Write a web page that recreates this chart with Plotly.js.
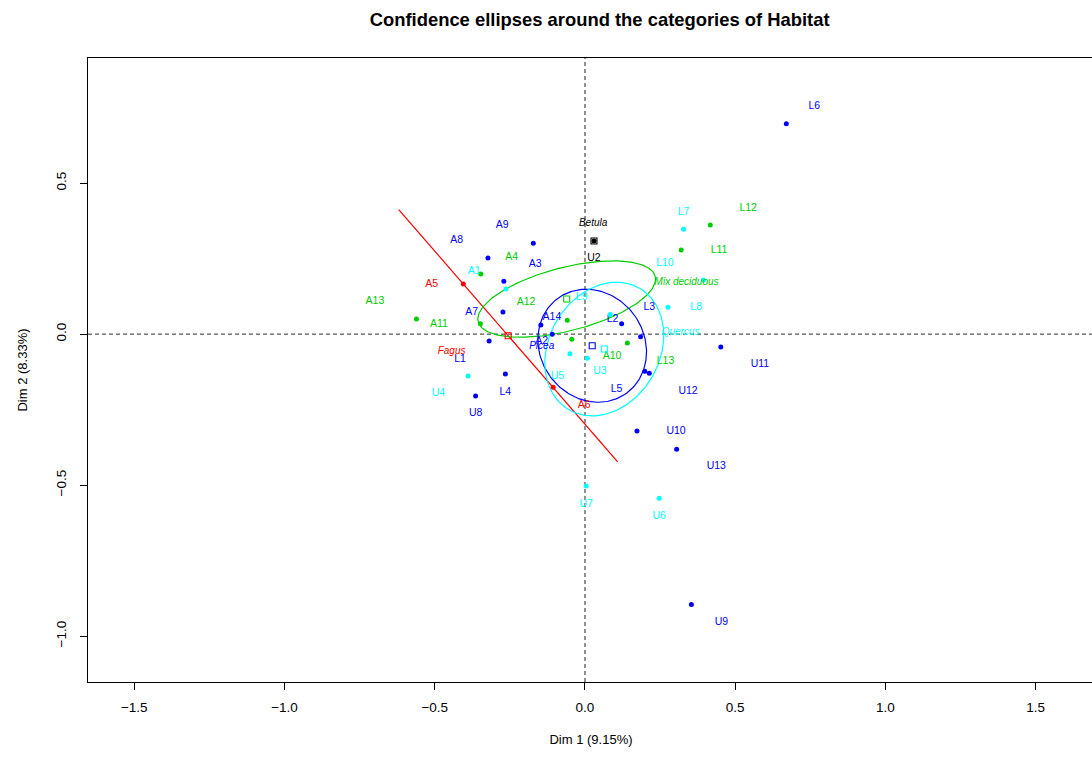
<!DOCTYPE html>
<html>
<head>
<meta charset="utf-8">
<script src="https://cdn.plot.ly/plotly-3.0.1.min.js"></script>
<style>
html,body{margin:0;padding:0;overflow:hidden;background:#fff;}
#chart{width:1094px;height:760px;}
</style>
</head>
<body>
<div id="chart"></div>
<script>
// ---- categories (Habitat) ----
const habitats = ["Betula", "Fagus", "Mix deciduous", "Picea", "Quercus"];
const habColors = ["#000000", "#FF0000", "#00CD00", "#0000FF", "#00FFFF"];
// category barycentres
const catX = [0.030, -0.2556, -0.0609, 0.024, 0.0642];
const catY = [0.308, -0.0055, 0.1159, -0.0387, -0.0497];
// category label positions
const catLabX = [0.027, -0.444, 0.338, -0.144, 0.318];
const catLabY = [0.367, -0.059, 0.171, -0.042, 0.004];
// confidence ellipses: semi-axes and orientation (degrees)
const ellA = [0, 0.5542, 0.304, 0.1942, 0.2331];
const ellB = [0, 0.0, 0.105, 0.1731, 0.184];
const ellAngle = [0, -48.9, 14.3, -53.6, 59.3];

// ---- individuals ----
const indNames = [
  "U2",
  "A5", "A6",
  "L12", "L11", "A4", "A13", "A11", "A12", "A10", "L13",
  "L6", "A9", "A8", "A3", "A7", "A14", "A2", "L1", "L2", "L3", "L5", "U12", "U11", "L4", "U8", "U10", "U13", "U9",
  "L7", "L10", "L8", "L9", "A1", "U5", "U3", "U4", "U7", "U6"
];
const indHabitat = [
  0,
  1, 1,
  2, 2, 2, 2, 2, 2, 2, 2,
  3, 3, 3, 3, 3, 3, 3, 3, 3, 3, 3, 3, 3, 3, 3, 3, 3, 3,
  4, 4, 4, 4, 4, 4, 4, 4, 4, 4
];
const indX = [
  0.030,
  -0.405, -0.106,
  0.417, 0.320, -0.347, -0.561, -0.348, -0.059, -0.044, 0.141,
  0.670, -0.172, -0.323, -0.270, -0.273, -0.147, -0.109, -0.319, 0.122, 0.185, 0.199, 0.214, 0.452, -0.265, -0.364, 0.173, 0.305, 0.354,
  0.328, 0.394, 0.276, 0.084, -0.263, -0.050, 0.008, -0.389, 0.004, 0.247
];
const indY = [
  0.308,
  0.166, -0.176,
  0.361, 0.278, 0.199, 0.050, 0.034, 0.046, -0.017, -0.030,
  0.696, 0.301, 0.252, 0.175, 0.073, 0.030, -0.001, -0.023, 0.034, -0.009, -0.123, -0.130, -0.043, -0.132, -0.205, -0.321, -0.381, -0.895,
  0.347, 0.179, 0.089, 0.065, 0.149, -0.065, -0.080, -0.139, -0.503, -0.544
];
// label positions of individuals
const labX = [
  0.030,
  -0.510, -0.003,
  0.543, 0.446, -0.244, -0.699, -0.486, -0.196, 0.090, 0.268,
  0.763, -0.276, -0.427, -0.166, -0.377, -0.110, -0.144, -0.416, 0.092, 0.214, 0.105, 0.343, 0.582, -0.265, -0.364, 0.303, 0.437, 0.454,
  0.328, 0.266, 0.370, -0.011, -0.369, -0.092, 0.050, -0.488, 0.004, 0.247
];
const labY = [
  0.251,
  0.165, -0.236,
  0.417, 0.278, 0.254, 0.109, 0.033, 0.106, -0.073, -0.089,
  0.755, 0.361, 0.311, 0.232, 0.073, 0.055, -0.025, -0.083, 0.049, 0.090, -0.183, -0.189, -0.099, -0.192, -0.263, -0.321, -0.437, -0.953,
  0.403, 0.235, 0.089, 0.122, 0.209, -0.139, -0.122, -0.196, -0.563, -0.603
];

const xTitle = "Dim 1 (9.15%)";
const yTitle = "Dim 2 (8.33%)";
const mainTitle = "Confidence ellipses around the categories of Habitat";
const FONT = "Liberation Sans, Arial, Helvetica, sans-serif";

function ellipsePath(cx, cy, a, b, angDeg) {
  const th = angDeg * Math.PI / 180, n = 240, xs = [], ys = [];
  for (let i = 0; i <= n; i++) {
    const t = 2 * Math.PI * i / n;
    xs.push(cx + a * Math.cos(t) * Math.cos(th) - b * Math.sin(t) * Math.sin(th));
    ys.push(cy + a * Math.cos(t) * Math.sin(th) + b * Math.sin(t) * Math.cos(th));
  }
  return {xs, ys};
}

const traces = [];
// ellipses
habitats.forEach((h, k) => {
  if (ellA[k] <= 0) return;
  const e = ellipsePath(catX[k], catY[k], ellA[k], ellB[k], ellAngle[k]);
  traces.push({x: e.xs, y: e.ys, mode: "lines", type: "scatter",
    line: {color: habColors[k], width: 1.2}, hoverinfo: "skip", showlegend: false});
});
// individuals points and labels per habitat
habitats.forEach((h, k) => {
  const ix = [], iy = [], lx = [], ly = [], tx = [];
  indNames.forEach((nm, i) => {
    if (indHabitat[i] !== k) return;
    ix.push(indX[i]); iy.push(indY[i]); lx.push(labX[i]); ly.push(labY[i]); tx.push(nm);
  });
  traces.push({x: ix, y: iy, mode: "markers", type: "scatter", text: tx,
    marker: {color: habColors[k], size: 5, symbol: "circle", line: {width: 0}},
    showlegend: false, hoverinfo: "text"});
  traces.push({x: lx, y: ly, mode: "text", type: "scatter", text: tx,
    textposition: "middle center",
    textfont: {family: FONT, size: 10.5, color: habColors[k]},
    showlegend: false, hoverinfo: "skip"});
});
// categories: open squares + italic labels
traces.push({x: catX, y: catY, mode: "markers", type: "scatter", text: habitats,
  marker: {color: habColors, size: 6, symbol: "square-open", line: {width: 1.1, color: habColors}},
  showlegend: false, hoverinfo: "text"});
traces.push({x: catLabX, y: catLabY, mode: "text", type: "scatter", text: habitats,
  textposition: "middle center",
  textfont: {family: FONT, size: 10, color: habColors, style: "italic"},
  showlegend: false, hoverinfo: "skip"});

const layout = {
  width: 1094, height: 760,
  margin: {l: 88, r: 0, t: 58, b: 78, pad: 0},
  paper_bgcolor: "#ffffff", plot_bgcolor: "#ffffff",
  font: {family: FONT, color: "#000000", size: 13},
  showlegend: false,
  title: {text: mainTitle, x: 0.5086, xref: "paper", xanchor: "center",
    y: 1 - 19.5 / 760, yref: "container", yanchor: "middle",
    font: {family: FONT, size: 18.4, color: "#000000", weight: "bold"}},
  xaxis: {
    range: [-1.654, 1.694], dtick: 0.5, tick0: 0, tickformat: ".1f",
    showgrid: false, zeroline: false,
    showline: true, mirror: true, linecolor: "#000000", linewidth: 1,
    ticks: "outside", ticklen: 7, tickwidth: 1, tickcolor: "#000000",
    ticklabelstandoff: 6,
    tickfont: {family: FONT, size: 13.5, color: "#000000"},
    title: {text: xTitle, standoff: 20, font: {family: FONT, size: 13, color: "#000000"}}
  },
  yaxis: {
    range: [-1.152, 0.914], dtick: 0.5, tick0: 0, tickformat: ".1f",
    showgrid: false, zeroline: false,
    showline: true, mirror: true, linecolor: "#000000", linewidth: 1,
    ticks: "outside", ticklen: 7, tickwidth: 1, tickcolor: "#000000",
    tickangle: -90, ticklabelstandoff: 9,
    tickfont: {family: FONT, size: 13.5, color: "#000000"},
    title: {text: yTitle, standoff: 23, font: {family: FONT, size: 13, color: "#000000"}}
  },
  shapes: [
    {type: "line", xref: "paper", yref: "y", x0: 0, x1: 1, y0: 0, y1: 0,
      line: {color: "#555555", width: 1.3, dash: "4px,3px"}, layer: "below"},
    {type: "line", xref: "x", yref: "paper", x0: 0, x1: 0, y0: 0, y1: 1,
      line: {color: "#555555", width: 1.3, dash: "4px,3px"}, layer: "below"}
  ]
};

Plotly.newPlot("chart", traces, layout, {displayModeBar: false, staticPlot: true});
</script>
</body>
</html>
